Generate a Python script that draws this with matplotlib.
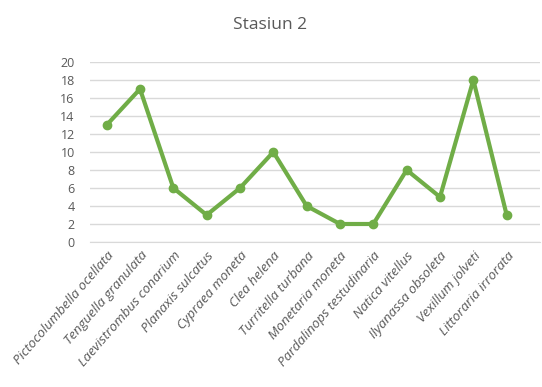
import matplotlib.pyplot as plt
import numpy as np

species = ['Pictocolumbella ocellata', 'Tenguella granulata', 'Laevistrombus conarium',
           'Planaxis sulcatus', 'Cypraea moneta', 'Clea helena', 'Turritella turbana',
           'Monetaria moneta', 'Pardalinops testudinaria', 'Natica vitellus',
           'Ilyanassa obsoleta', 'Vexillum jolveti', 'Littoraria irrorata']
counts = [13, 17, 6, 3, 6, 10, 4, 2, 2, 8, 5, 18, 3]
yticks = list(range(0, 21, 2))

plt.rcParams['font.family'] = ['Open Sans', 'DejaVu Sans']

fig = plt.figure(figsize=(5.42, 3.87), dpi=100)
ax = fig.add_axes([90 / 542, 1 - 242 / 387, 450 / 542, 180 / 387])

x = np.arange(len(species))
ax.plot(x, counts, color='#70AD47', linewidth=3, marker='o', markersize=6, zorder=3)

ax.set_xlim(-0.5, 13.0)
ax.set_ylim(0, 20)
ax.set_yticks(yticks)
ax.set_xticks(x)
ax.set_xticklabels(species, rotation=49, ha='right', va='top', rotation_mode='anchor',
                   fontstyle='italic', fontsize=9.7, color='#595959')
ax.tick_params(axis='y', labelsize=9, colors='#595959', length=0, pad=11)
ax.tick_params(axis='x', length=0, pad=5)
ax.grid(axis='y', color='#D9D9D9', linewidth=1)
ax.set_axisbelow(True)
for s in ['top', 'right', 'left']:
    ax.spines[s].set_visible(False)
ax.spines['bottom'].set_color('#D9D9D9')

fig.text(270 / 542, 1 - 25 / 387, 'Stasiun 2', ha='center', va='center', fontsize=12.5, color='#595959')

fig.savefig('out.png', dpi=100)
